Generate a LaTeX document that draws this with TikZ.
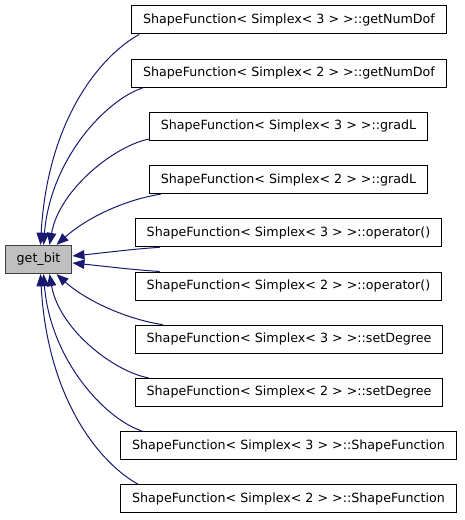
\documentclass[tikz,border=0pt]{standalone}
\usepackage{fontspec}
\setmainfont{DejaVu Sans}
\usepackage{tikz}
\usetikzlibrary{arrows.meta,calc}
\usepackage{xcolor}
\definecolor{edgeblue}{HTML}{191970}
\definecolor{rootgray}{HTML}{BFBFBF}

\begin{document}
\begin{tikzpicture}[x=0.75pt, y=-0.75pt,
    func/.style={rectangle, draw=black, fill=white, line width=0.75pt, minimum height=21pt, inner xsep=8.6pt, inner ysep=0pt, font=\fontsize{9.5}{11}\selectfont},
    rootbox/.style={func, fill=rootgray, draw=black!75, line width=1pt},
    arr/.style={-{Triangle[length=9pt, width=7pt]}, color=edgeblue, line width=0.75pt}
]
\useasboundingbox (0,0) rectangle (464,520);
\node[rootbox] (gb) at (38.5,259.5) {get\_bit};
\node[func] (gnd3) at (289,20) {ShapeFunction< Simplex< 3 > >::getNumDof};
\node[func] (gnd2) at (289,73.2) {ShapeFunction< Simplex< 2 > >::getNumDof};
\node[func] (grad3) at (288.5,126.4) {ShapeFunction< Simplex< 3 > >::gradL};
\node[func] (grad2) at (288.5,179.6) {ShapeFunction< Simplex< 2 > >::gradL};
\node[func] (op3) at (288.5,232.8) {ShapeFunction< Simplex< 3 > >::operator()};
\node[func] (op2) at (288.5,286) {ShapeFunction< Simplex< 2 > >::operator()};
\node[func] (sd3) at (289,339.2) {ShapeFunction< Simplex< 3 > >::setDegree};
\node[func] (sd2) at (289,392.4) {ShapeFunction< Simplex< 2 > >::setDegree};
\node[func] (ctor3) at (288.5,445.6) {ShapeFunction< Simplex< 3 > >::ShapeFunction};
\node[func] (ctor2) at (288.5,498.8) {ShapeFunction< Simplex< 2 > >::ShapeFunction};
% callers above get_bit
\draw[arr] ($(gnd3.south west)+(8,0)$) .. controls +(-38,21) and +(7,-126) .. ($(gb.north)+(2,0)$);
\draw[arr] ($(gnd2.south west)+(12,0)$) .. controls +(-37,12) and +(7,-86) .. ($(gb.north)+(5,0)$);
\draw[arr] ($(grad3.south west)+(1,-2)$) .. controls +(-34,6) and +(10,-56) .. ($(gb.north)+(11,0)$);
\draw[arr] ($(grad2.south west)+(12,0)$) .. controls +(-38,6) and +(29,-26) .. ($(gb.north)+(18,0)$);
\draw[arr] ($(op3.south west)+(25,0)$) .. controls +(-30,2) and +(30,-3) .. ($(gb.east)+(0,-3.5)$);
% callers below get_bit
\draw[arr] ($(op2.north west)+(25,0)$) .. controls +(-30,-2) and +(30,3) .. ($(gb.east)+(0,3.5)$);
\draw[arr] ($(sd3.north west)+(28,0)$) .. controls +(-38,-6) and +(29,26) .. ($(gb.south)+(18,0)$);
\draw[arr] ($(sd2.north west)+(14,0)$) .. controls +(-34,-6) and +(10,56) .. ($(gb.south)+(11,0)$);
\draw[arr] ($(ctor3.north west)+(22,0)$) .. controls +(-37,-12) and +(7,86) .. ($(gb.south)+(5,0)$);
\draw[arr] ($(ctor2.north west)+(18,0)$) .. controls +(-38,-21) and +(7,126) .. ($(gb.south)+(2,0)$);
\end{tikzpicture}
\end{document}
